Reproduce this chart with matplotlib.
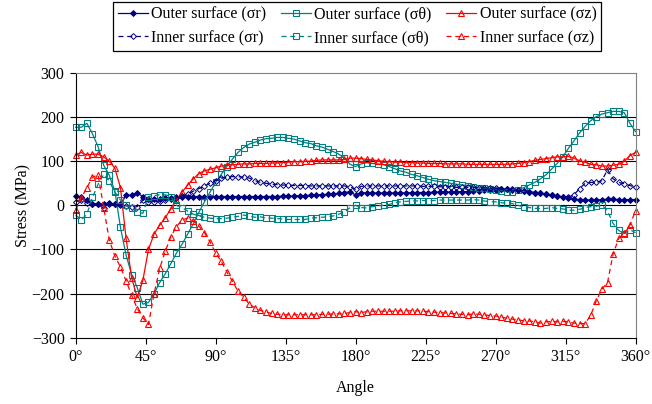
import numpy as np
import matplotlib.pyplot as plt

# angle positions, 3.6 degree steps
angles = np.linspace(0, 360, 101)

outer_sr = [21, 18, 12, 4, 3, 3, 5, 3, 2, 23,
            23, 28, 20, 14, 15, 15, 16, 17, 18, 19,
            20, 20, 20, 20, 20, 20, 20, 20, 20, 20,
            20, 20, 20, 20, 20, 20, 20, 21, 21, 21,
            22, 22, 23, 24, 24, 25, 26, 27, 29, 31,
            23, 29, 28, 28, 28, 28, 28, 28, 28, 28,
            29, 29, 29, 29, 30, 30, 30, 30, 31, 31,
            31, 32, 33, 34, 35, 35, 36, 36, 35, 34,
            33, 31, 29, 27, 25, 24, 21, 18, 16, 14,
            13, 12, 12, 12, 13, 14, 14, 13, 13, 13,
            13]

inner_sr = [8, 12, 6, 3, 2, -7, 3, 2, 0, -1,
            -3, -3, 12, 8, 8, 10, 12, 14, 17, 21,
            26, 32, 38, 44, 50, 56, 61, 64, 65, 65,
            64, 62, 56, 52, 50, 48, 47, 46, 46, 45,
            45, 45, 44, 44, 44, 44, 44, 44, 44, 42,
            36, 43, 44, 44, 44, 44, 44, 44, 44, 44,
            44, 44, 43, 43, 43, 42, 42, 42, 41, 41,
            41, 41, 40, 40, 39, 39, 38, 37, 36, 34,
            33, 31, 29, 27, 25, 23, 21, 19, 18, 24,
            38, 50, 52, 52, 56, 81, 60, 52, 49, 45,
            41]

outer_st = [177, 177, 186, 162, 133, 91, 68, 32, -50, -113,
            -157, -187, -224, -220, -200, -175, -155, -132, -108, -88,
            -65, -42, -16, 8, 30, 52, 70, 88, 105, 120,
            131, 139, 143, 148, 151, 152, 154, 154, 152, 150,
            146, 142, 140, 135, 132, 127, 122, 116, 108, 93,
            88, 94, 97, 95, 94, 92, 88, 83, 78, 75,
            70, 67, 63, 59, 56, 54, 52, 50, 48, 46,
            45, 42, 40, 39, 37, 35, 33, 31, 31, 35,
            40, 46, 52, 60, 69, 82, 95, 110, 129, 146,
            164, 179, 192, 201, 207, 210, 213, 213, 210, 186,
            167]

inner_st = [-22, -33, -20, 18, 48, 70, 55, 30, 12, 0,
            -5, -15, -18, 20, 22, 24, 24, 20, 0, -5,
            -13, -20, -24, -27, -29, -30, -30, -29, -27, -25,
            -22, -24, -27, -26, -29, -29, -30, -31, -32, -32,
            -32, -32, -29, -28, -27, -26, -24, -20, -15, -5,
            0, -5, -6, -3, -1, 0, 2, 6, 8, 9,
            10, 10, 11, 11, 11, 12, 12, 12, 12, 12,
            12, 13, 12, 10, 8, 8, 6, 5, 4, 0,
            -3, -5, -7, -7, -7, -5, -7, -8, -11, -11,
            -9, -5, -3, -2, 1, -13, -41, -57, -64, -55,
            -62]

outer_sz = [114, 120, 114, 116, 116, 110, 100, 84, 40, -75,
            -165, -209, -170, -100, -65, -45, -28, -8, 12, 30,
            46, 60, 72, 78, 82, 85, 89, 91, 92, 93,
            94, 94, 95, 95, 95, 96, 96, 97, 98, 99,
            99, 100, 100, 102, 103, 103, 103, 103, 104, 107,
            107, 106, 104, 103, 101, 100, 99, 98, 98, 97,
            97, 96, 96, 95, 95, 95, 94, 94, 94, 94,
            93, 93, 93, 93, 93, 93, 93, 93, 94, 95,
            97, 99, 102, 104, 106, 108, 110, 110, 111, 107,
            101, 98, 93, 92, 89, 89, 91, 93, 100, 113,
            120]

inner_sz = [-10, 17, 40, 64, 69, -5, -79, -115, -140, -171,
            -204, -234, -255, -270, -200, -143, -104, -71, -48, -33,
            -29, -35, -47, -62, -83, -108, -127, -151, -172, -195,
            -208, -224, -232, -238, -242, -245, -247, -248, -248, -248,
            -248, -248, -248, -248, -247, -247, -246, -246, -245, -243,
            -241, -243, -241, -240, -240, -240, -240, -240, -239, -239,
            -239, -239, -240, -241, -242, -243, -244, -245, -246, -247,
            -248, -246, -247, -248, -250, -251, -253, -256, -258, -259,
            -262, -262, -264, -267, -264, -263, -264, -263, -264, -267,
            -268, -268, -249, -216, -190, -175, -110, -75, -62, -45,
            -12]

xticks = [0, 45, 90, 135, 180, 225, 270, 315, 360]
yticks = [-300, -200, -100, 0, 100, 200, 300]

plt.rcParams['font.family'] = ['Liberation Serif', 'DejaVu Serif']
plt.rcParams['font.size'] = 11.5

navy = '#000080'
teal = '#008080'
red = '#FF0000'
dash = (0, (4, 3))

fig = plt.figure(figsize=(6.52, 4.04), dpi=100)
ax = fig.add_axes([0.1161, 0.1641, 0.8586, 0.6552])

for v in yticks[1:-1]:
    ax.axhline(v, color='black', lw=0.8, zorder=0.5)

lw = 0.9
h1, = ax.plot(angles, outer_sr, color=navy, lw=lw, marker='D', ms=3.0,
              mfc=navy, mec=navy, mew=0.7, clip_on=False, label='Outer surface (σr)')
h2, = ax.plot(angles, outer_st, color=teal, lw=lw, marker='s', ms=3.8,
              mfc='none', mec=teal, mew=0.8, clip_on=False, label='Outer surface (σθ)')
h3, = ax.plot(angles, outer_sz, color=red, lw=lw, marker='^', ms=4.3,
              mfc='none', mec=red, mew=0.8, clip_on=False, label='Outer surface (σz)')
h4, = ax.plot(angles, inner_sr, color=navy, lw=lw, ls=dash, marker='D', ms=3.0,
              mfc='none', mec=navy, mew=0.7, clip_on=False, label='Inner surface (σr)')
h5, = ax.plot(angles, inner_st, color=teal, lw=lw, ls=dash, marker='s', ms=3.8,
              mfc='none', mec=teal, mew=0.8, clip_on=False, label='Inner surface (σθ)')
h6, = ax.plot(angles, inner_sz, color=red, lw=lw, ls=dash, marker='^', ms=4.3,
              mfc='none', mec=red, mew=0.8, clip_on=False, label='Inner surface (σz)')

ax.set_xlim(0, 360)
ax.set_ylim(-300, 300)
ax.set_xticks(xticks)
ax.set_xticklabels([f'{a}°' for a in xticks])
ax.set_yticks(yticks)
ax.tick_params(direction='out', length=4, width=0.8, color='black', pad=4)

for s in ['left', 'bottom']:
    ax.spines[s].set_color('black')
    ax.spines[s].set_linewidth(0.8)
for s in ['top', 'right']:
    ax.spines[s].set_color('#808080')
    ax.spines[s].set_linewidth(0.8)

ax.set_ylabel('Stress (MPa)')
ax.yaxis.set_label_coords(-0.08, 0.5)
ax.set_xlabel('Angle')
ax.xaxis.set_label_coords(0.5, -0.16)

leg = fig.legend(handles=[h1, h4, h2, h5, h3, h6], ncol=3, loc='upper left',
                 bbox_to_anchor=(113 / 652, 1 - 2 / 404), frameon=True,
                 fancybox=False, edgecolor='black', framealpha=1,
                 borderpad=0.3, labelspacing=0.45, handlelength=1.9,
                 handletextpad=0.2, columnspacing=0.9, borderaxespad=0)
leg.get_frame().set_linewidth(0.9)

fig.savefig('out.png', dpi=100, facecolor='white')
